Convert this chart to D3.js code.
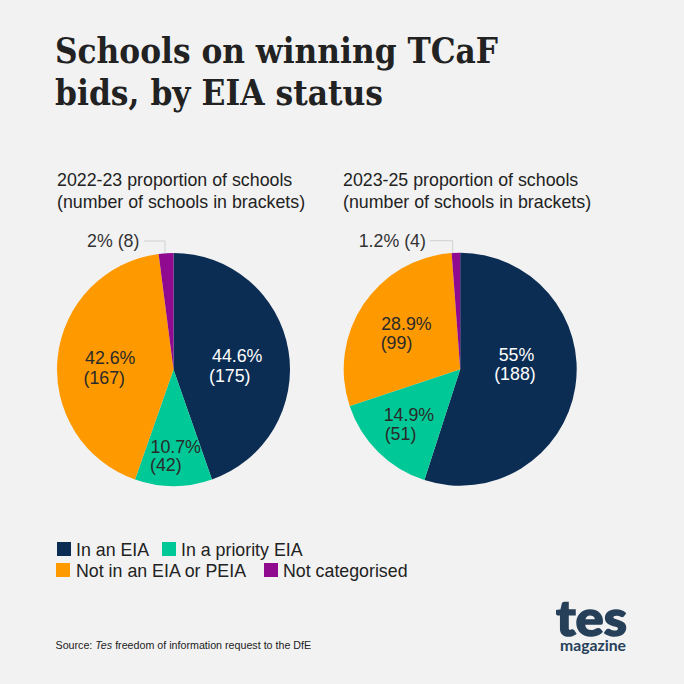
<!DOCTYPE html>
<html>
<head>
<meta charset="utf-8">
<script src="https://cdnjs.cloudflare.com/ajax/libs/d3/7.8.5/d3.min.js"></script>
<style>
html, body { margin: 0; padding: 0; background: #f2f2f2; }
svg { display: block; }
text { font-family: "Liberation Sans", Arial, sans-serif; fill: #222; }
</style>
</head>
<body>
<svg id="chart" width="684" height="684"></svg>
<script>
var categories = ["In an EIA", "In a priority EIA", "Not in an EIA or PEIA", "Not categorised"];
var colors = ["#0c2d53", "#00c896", "#ff9900", "#8f0a8f"];
var labelColors = ["#fff", "#2a2a2a", "#2a2a2a", "#333"];

var schools2223 = [175, 42, 167, 8];
var schools2325 = [188, 51, 99, 4];
var percent2223 = ["44.6%", "10.7%", "42.6%", "2%"];
var percent2325 = ["55%", "14.9%", "28.9%", "1.2%"];

var svg = d3.select("#chart");
var radius = 116.5;
var fontSize = "17.8px";

// title
svg.append("text").attr("x", 55).attr("y", 63)
	.attr("textLength", 443).attr("lengthAdjust", "spacingAndGlyphs")
	.style("font-family", "'DejaVu Serif', serif").style("font-weight", "bold").style("font-size", "36px")
	.text("Schools on winning TCaF");
svg.append("text").attr("x", 55).attr("y", 105)
	.attr("textLength", 328).attr("lengthAdjust", "spacingAndGlyphs")
	.style("font-family", "'DejaVu Serif', serif").style("font-weight", "bold").style("font-size", "36px")
	.text("bids, by EIA status");

var pie = d3.pie().sort(null).value(function(d) { return d; });
var arc = d3.arc().innerRadius(0).outerRadius(radius);

// label offsets from the pie centre, first and second line
var charts = [
	{
		cx: 173.5, cy: 369.5, head: "2022-23 proportion of schools", headX: 57,
		values: schools2223, pct: percent2223,
		offsets: [[38.5, -7.8, 35.5, 12.5], [-23, 83, -23.5, 101.5], [-88.5, -6, -90, 14]],
		small: { lineX: -8.5, textX: -86.5, lineStart: -29.5 }
	},
	{
		cx: 460.2, cy: 369.2, head: "2023-25 proportion of schools", headX: 343,
		values: schools2325, pct: percent2325,
		offsets: [[38.5, -8.5, 34, 11], [-76.5, 52.3, -75.5, 71.3], [-79, -39.2, -79.5, -20.7]],
		small: { lineX: -7.5, textX: -101.5, lineStart: -30.5 }
	}
];

charts.forEach(function(c) {
	svg.append("text").attr("x", c.headX).attr("y", 186).style("font-size", fontSize).text(c.head);
	svg.append("text").attr("x", c.headX).attr("y", 208).style("font-size", fontSize).text("(number of schools in brackets)");

	var g = svg.append("g").attr("transform", "translate(" + c.cx + "," + c.cy + ")");
	g.selectAll("path")
		.data(pie(c.values))
		.enter()
		.append("path")
			.attr("d", arc)
			.attr("fill", function(d, i) { return colors[i]; });

	c.offsets.forEach(function(o, i) {
		g.append("text").attr("x", o[0]).attr("y", o[1]).style("font-size", fontSize).style("fill", labelColors[i]).text(c.pct[i]);
		g.append("text").attr("x", o[2]).attr("y", o[3]).style("font-size", fontSize).style("fill", labelColors[i]).text("(" + c.values[i] + ")");
	});

	// leader for the smallest slice
	g.append("path")
		.attr("d", "M" + c.small.lineStart + ",-128.5H" + c.small.lineX + "V-116")
		.attr("fill", "none").attr("stroke", "#d0d0d0").attr("stroke-width", 1);
	g.append("text").attr("x", c.small.textX).attr("y", -122.5)
		.style("font-size", fontSize).style("fill", labelColors[3])
		.text(c.pct[3] + " (" + c.values[3] + ")");
});

// legend
var legendPos = [[57, 556], [162, 556], [56, 577], [264, 577]];
var legend = svg.selectAll(".legend").data(categories).enter().append("g")
	.attr("class", "legend")
	.attr("transform", function(d, i) { return "translate(" + legendPos[i][0] + "," + legendPos[i][1] + ")"; });
legend.append("rect").attr("x", 0).attr("y", -14).attr("width", 14).attr("height", 14)
	.attr("fill", function(d, i) { return colors[i]; });
legend.append("text").attr("x", function(d, i) { return i == 2 ? 20 : 19; }).attr("y", 0).style("font-size", fontSize).text(function(d) { return d; });

// source
var source = svg.append("text").attr("x", 55.5).attr("y", 649).style("font-size", "10.7px");
source.append("tspan").text("Source: ");
source.append("tspan").style("font-style", "italic").text("Tes");
source.append("tspan").text(" freedom of information request to the DfE");

// logo
svg.append("text").attr("x", 556).attr("y", 636)
	.attr("textLength", 71).attr("lengthAdjust", "spacingAndGlyphs")
	.style("font-family", "Lato, sans-serif").style("font-weight", "900").style("font-size", "50px")
	.style("fill", "#27405a").style("stroke", "#27405a").style("stroke-width", 1.5)
	.text("tes");
svg.append("text").attr("x", 560).attr("y", 651)
	.attr("textLength", 66).attr("lengthAdjust", "spacingAndGlyphs")
	.style("font-family", "Lato, sans-serif").style("font-weight", "bold").style("font-size", "16px").style("fill", "#27405a")
	.text("magazine");
</script>
</body>
</html>
